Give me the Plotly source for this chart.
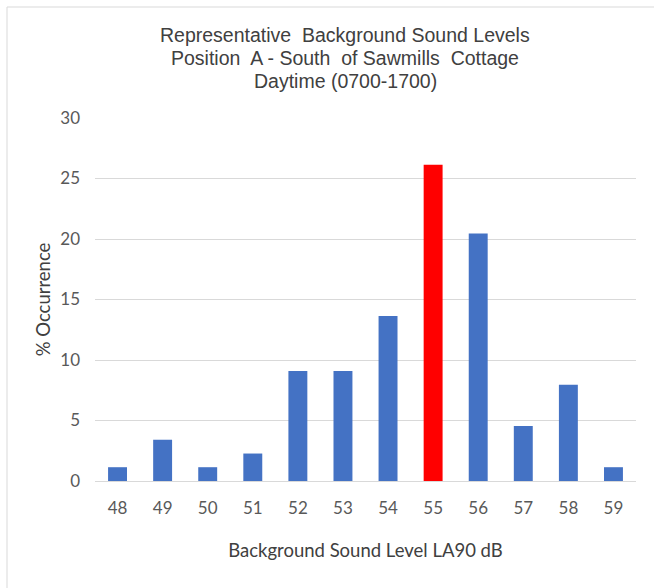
import plotly.graph_objects as go

levels = ["48", "49", "50", "51", "52", "53", "54", "55", "56", "57", "58", "59"]
occurrence = [1.14, 3.41, 1.14, 2.27, 9.09, 9.09, 13.64, 26.14, 20.45, 4.55, 7.95, 1.14]
highlight_level = "55"
colors = ["#FF0000" if l == highlight_level else "#4472C4" for l in levels]

title_lines = ["Representative  Background Sound Levels",
               "Position  A - South  of Sawmills  Cottage",
               "Daytime (0700-1700)"]

fig = go.Figure(go.Bar(x=levels, y=occurrence, marker=dict(color=colors, line=dict(width=0)), width=0.42))

W, H = 654, 588
L, R, T, B = 95, 18, 118, 107
pw = W - L - R
ph = H - T - B

title_y_px = [35, 58, 81]
annotations = [
    dict(text=t, xref="paper", yref="paper", x=(345 - L) / pw, y=(H - B - yy) / ph,
         xanchor="center", yanchor="middle", showarrow=False,
         font=dict(family="Liberation Sans, Arial", size=19.5, color="#404040"))
    for t, yy in zip(title_lines, title_y_px)
]

fig.update_layout(
    width=W, height=H,
    margin=dict(l=L, r=R, t=T, b=B),
    paper_bgcolor="white", plot_bgcolor="white",
    showlegend=False,
    annotations=annotations,
    xaxis=dict(type="category", tickfont=dict(family="Lato, Open Sans", size=17, color="#595959"),
               showgrid=False, showline=True, linecolor="#d9d9d9", linewidth=1, ticks="",
               ticklabelstandoff=12,
               title=dict(text="Background Sound Level LA90 dB", standoff=26,
                          font=dict(family="Lato, Open Sans", size=18.5, color="#404040"))),
    yaxis=dict(range=[0, 30], dtick=5, tickfont=dict(family="Lato, Open Sans", size=17, color="#595959"),
               showgrid=True, gridcolor="#d9d9d9", gridwidth=1, zeroline=False, ticks="",
               ticklabelstandoff=14,
               title=dict(text="% Occurrence", standoff=4,
                          font=dict(family="Lato, Open Sans", size=18.5, color="#404040"))),
    shapes=[
        dict(type="line", xref="paper", yref="paper", x0=(7 - L) / pw, x1=(W - L) / pw,
             y0=(H - B - 7) / ph, y1=(H - B - 7) / ph, line=dict(color="#d9d9d9", width=1)),
        dict(type="line", xref="paper", yref="paper", x0=(7 - L) / pw, x1=(7 - L) / pw,
             y0=(H - B - 7) / ph, y1=-(B) / ph, line=dict(color="#d9d9d9", width=1)),
    ],
)

fig.write_html("out.html")
